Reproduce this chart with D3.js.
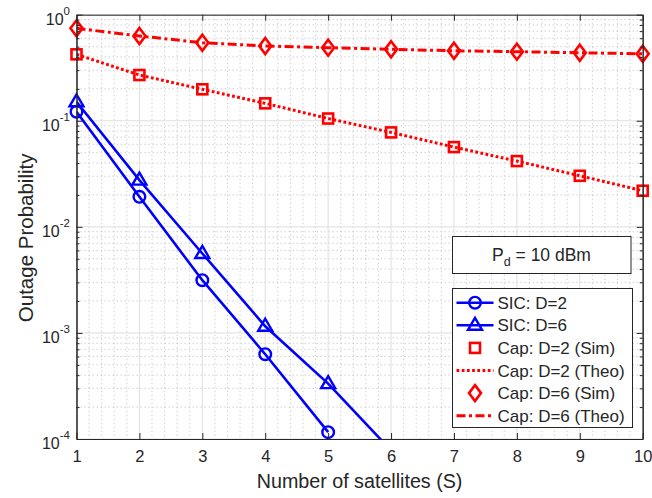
<!DOCTYPE html>
<html>
<head>
<meta charset="utf-8">
<script src="https://cdn.jsdelivr.net/npm/d3@7"></script>
<style>
  body { margin: 0; background: #fff; }
  text { font-family: "Liberation Sans", Arial, sans-serif; fill: #262626; }
</style>
</head>
<body>
<div id="chart"></div>
<script>
// number of satellites
const satellites = [1, 2, 3, 4, 5, 6, 7, 8, 9, 10];

// outage probability
const sicD2 = [0.1216, 0.0192, 0.00314, 0.00063, 0.000116];
const sicD6 = [0.151, 0.0276, 0.00561, 0.001156, 0.000333, 0.000078];
const capD2Sim = [0.423, 0.27, 0.198, 0.146, 0.105, 0.0777, 0.0565, 0.0417, 0.0303, 0.0219];
const capD2Theo = [0.423, 0.27, 0.198, 0.146, 0.105, 0.0777, 0.0565, 0.0417, 0.0303, 0.0219];
const capD6Sim = [0.744, 0.63, 0.544, 0.507, 0.489, 0.472, 0.457, 0.448, 0.438, 0.428];
const capD6Theo = [0.744, 0.63, 0.544, 0.507, 0.489, 0.472, 0.457, 0.448, 0.438, 0.428];

const xTicks = [1, 2, 3, 4, 5, 6, 7, 8, 9, 10];
const yExponents = [0, -1, -2, -3, -4];

const legendLabels = ["SIC: D=2", "SIC: D=6", "Cap: D=2 (Sim)", "Cap: D=2 (Theo)", "Cap: D=6 (Sim)", "Cap: D=6 (Theo)"];

class OutagePlot {
  constructor(config) {
    this.config = config;
    this.svg = null;
    this.margins = null;
    this.xScale = null;
    this.yScale = null;

    this.createSvg();
    this.createMargins();
    this.createScales();
  }

  createSvg() {
    this.svg = d3.select(this.config.div)
      .append("svg")
      .attr("width", this.config.width + this.config.left + this.config.right)
      .attr("height", this.config.height + this.config.top + this.config.bottom);
  }

  createMargins() {
    this.margins = this.svg.append("g")
      .attr("transform", `translate(${this.config.left},${this.config.top})`);

    this.margins.append("clipPath")
      .attr("id", "plotclip")
      .append("rect")
      .attr("width", this.config.width)
      .attr("height", this.config.height);
  }

  createScales() {
    this.xScale = d3.scaleLinear().domain([1, 10]).range([0, this.config.width]);
    this.yScale = d3.scaleLog().domain([1e-4, 1]).range([this.config.height, 0]);
  }

  minorYValues() {
    const out = [];
    for (let k = -4; k < 0; k++) for (let m = 2; m <= 9; m++) out.push(m * Math.pow(10, k));
    return out;
  }

  createGrid() {
    const w = this.config.width, h = this.config.height;
    const g = this.margins.append("g");

    // minor x grid every 0.2
    const minorX = d3.range(1, 10.001, 0.2).filter(v => Math.abs(v - Math.round(v)) > 0.01);
    g.selectAll(".mx").data(minorX).join("line")
      .attr("x1", d => this.xScale(d)).attr("x2", d => this.xScale(d))
      .attr("y1", 0).attr("y2", h)
      .attr("stroke", "#c4c4c4").attr("stroke-width", 0.8).attr("stroke-dasharray", "1.5,2.5");

    g.selectAll(".my").data(this.minorYValues()).join("line")
      .attr("x1", 0).attr("x2", w)
      .attr("y1", d => this.yScale(d)).attr("y2", d => this.yScale(d))
      .attr("stroke", "#c4c4c4").attr("stroke-width", 0.8).attr("stroke-dasharray", "1.5,2.5");

    g.selectAll(".gx").data(xTicks).join("line")
      .attr("x1", d => this.xScale(d)).attr("x2", d => this.xScale(d))
      .attr("y1", 0).attr("y2", h)
      .attr("stroke", "#dedede").attr("stroke-width", 1);

    g.selectAll(".gy").data(yExponents).join("line")
      .attr("x1", 0).attr("x2", w)
      .attr("y1", d => this.yScale(Math.pow(10, d))).attr("y2", d => this.yScale(Math.pow(10, d)))
      .attr("stroke", "#dedede").attr("stroke-width", 1);
  }

  createAxis() {
    const w = this.config.width, h = this.config.height;
    const minorY = this.minorYValues();
    const majorY = yExponents.map(e => Math.pow(10, e));

    const bottom = d3.axisBottom(this.xScale).tickValues(xTicks).tickSizeInner(-6).tickSizeOuter(0).tickPadding(11);
    const top = d3.axisTop(this.xScale).tickValues(xTicks).tickSizeInner(-6).tickSizeOuter(0).tickFormat("");
    const left = d3.axisLeft(this.yScale).tickValues(majorY).tickSizeInner(-6).tickSizeOuter(0).tickFormat("");
    const right = d3.axisRight(this.yScale).tickValues(majorY).tickSizeInner(-6).tickSizeOuter(0).tickFormat("");
    const leftMinor = d3.axisLeft(this.yScale).tickValues(minorY).tickSizeInner(-3).tickSizeOuter(0).tickFormat("");
    const rightMinor = d3.axisRight(this.yScale).tickValues(minorY).tickSizeInner(-3).tickSizeOuter(0).tickFormat("");

    const style = sel => {
      sel.selectAll("path").attr("stroke", "#262626").attr("stroke-width", 1);
      sel.selectAll("line").attr("stroke", "#262626").attr("stroke-width", 1);
    };

    const gb = this.margins.append("g").attr("transform", `translate(0,${h})`).call(bottom).call(style);
    gb.selectAll("text")
      .style("font-family", "Liberation Sans, Arial, sans-serif")
      .style("font-size", "16.5px").attr("fill", "#262626");
    this.margins.append("g").call(top).call(style);
    this.margins.append("g").call(left).call(style);
    this.margins.append("g").attr("transform", `translate(${w},0)`).call(right).call(style);
    this.margins.append("g").call(leftMinor).call(style);
    this.margins.append("g").attr("transform", `translate(${w},0)`).call(rightMinor).call(style);

    // y tick labels as 10^k
    const yl = this.margins.append("g");
    yExponents.forEach(e => {
      const t = yl.append("text")
        .attr("x", -6.5)
        .attr("y", this.yScale(Math.pow(10, e)) + 10)
        .attr("text-anchor", "end")
        .style("font-size", "16px");
      t.append("tspan").text("10");
      t.append("tspan").attr("dy", -10).style("font-size", "11.5px").text(e);
    });

    // axis titles
    this.svg.append("text")
      .attr("x", this.config.left + w / 2)
      .attr("y", this.config.top + h + 49)
      .attr("text-anchor", "middle")
      .style("font-size", "19.7px")
      .text("Number of satellites (S)");

    this.svg.append("text")
      .attr("transform", `translate(33,${this.config.top + h / 2 + 11}) rotate(-90)`)
      .attr("text-anchor", "middle")
      .style("font-size", "20.5px")
      .text("Outage Probability");
  }

  series(values) {
    return values.map((v, i) => ({ s: satellites[i], p: v }));
  }

  renderLines() {
    const line = d3.line()
      .x(d => this.xScale(d.s))
      .y(d => this.yScale(d.p));

    const lines = this.margins.append("g").attr("clip-path", "url(#plotclip)");

    lines.append("path").datum(this.series(capD6Theo))
      .attr("fill", "none").attr("stroke", "#ff0000").attr("stroke-width", 3)
      .attr("stroke-dasharray", "9,3.5,3,3.5").attr("d", line);
    lines.append("path").datum(this.series(capD2Theo))
      .attr("fill", "none").attr("stroke", "#ff0000").attr("stroke-width", 3)
      .attr("stroke-dasharray", "2.8,2.4").attr("d", line);
    lines.append("path").datum(this.series(sicD2))
      .attr("fill", "none").attr("stroke", "#0000ff").attr("stroke-width", 2.6).attr("d", line);
    lines.append("path").datum(this.series(sicD6))
      .attr("fill", "none").attr("stroke", "#0000ff").attr("stroke-width", 2.6).attr("d", line);
  }

  marker(g, type, x, y, color) {
    if (type === "circle") {
      g.append("circle").attr("cx", x).attr("cy", y).attr("r", 5.8)
        .attr("fill", "none").attr("stroke", color).attr("stroke-width", 2.4);
    } else if (type === "triangle") {
      g.append("path").attr("d", `M${x},${y - 7.5}L${x + 7},${y + 4.5}L${x - 7},${y + 4.5}Z`)
        .attr("fill", "none").attr("stroke", color).attr("stroke-width", 2.4);
    } else if (type === "square") {
      g.append("rect").attr("x", x - 5).attr("y", y - 5).attr("width", 10).attr("height", 10)
        .attr("fill", "none").attr("stroke", color).attr("stroke-width", 2.6);
    } else if (type === "diamond") {
      g.append("path").attr("d", `M${x},${y - 8}L${x + 6},${y}L${x},${y + 8}L${x - 6},${y}Z`)
        .attr("fill", "none").attr("stroke", color).attr("stroke-width", 2.6);
    }
  }

  renderMarkers() {
    const g = this.margins.append("g");
    const put = (values, type, color) => {
      this.series(values).filter(d => d.p >= 1e-4).forEach(d => {
        this.marker(g, type, this.xScale(d.s), this.yScale(d.p), color);
      });
    };
    put(capD6Sim, "diamond", "#ff0000");
    put(capD2Sim, "square", "#ff0000");
    put(sicD2, "circle", "#0000ff");
    put(sicD6, "triangle", "#0000ff");
  }

  renderAnnotation() {
    const g = this.svg.append("g");
    g.append("rect")
      .attr("x", 452.5).attr("y", 236.5).attr("width", 178.5).attr("height", 37)
      .attr("fill", "#fff").attr("stroke", "#262626").attr("stroke-width", 1);
    const t = g.append("text")
      .attr("x", 541.5).attr("y", 261)
      .attr("text-anchor", "middle")
      .style("font-size", "17.5px");
    t.append("tspan").text("P");
    t.append("tspan").attr("dy", 5).style("font-size", "12.5px").text("d");
    t.append("tspan").attr("dy", -5).text(" = 10 dBm");
  }

  renderLegend() {
    const g = this.svg.append("g");
    g.append("rect")
      .attr("x", 452.5).attr("y", 288.5).attr("width", 180).attr("height", 139)
      .attr("fill", "#fff").attr("stroke", "#262626").attr("stroke-width", 1);

    const entries = [
      { line: "solid", color: "#0000ff", marker: "circle" },
      { line: "solid", color: "#0000ff", marker: "triangle" },
      { line: null, color: "#ff0000", marker: "square" },
      { line: "2.8,2.4", color: "#ff0000", marker: null },
      { line: null, color: "#ff0000", marker: "diamond" },
      { line: "9,3.5,3,3.5", color: "#ff0000", marker: null }
    ];

    entries.forEach((e, i) => {
      const y = 302.7 + i * 22.6;
      if (e.line) {
        const l = g.append("line")
          .attr("x1", 456.5).attr("x2", 493.5).attr("y1", y).attr("y2", y)
          .attr("stroke", e.color).attr("stroke-width", e.line === "solid" ? 2.6 : 3);
        if (e.line !== "solid") l.attr("stroke-dasharray", e.line);
      }
      if (e.marker) this.marker(g, e.marker, 475, y, e.color);
      g.append("text")
        .attr("x", 497.5).attr("y", y + 6)
        .style("font-size", "17px")
        .text(legendLabels[i]);
    });
  }
}

const plot = new OutagePlot({
  div: "#chart",
  width: 566.2,
  height: 424.3,
  left: 76.5,
  right: 9.3,
  top: 14.7,
  bottom: 59
});
plot.createGrid();
plot.renderLines();
plot.renderMarkers();
plot.createAxis();
plot.renderAnnotation();
plot.renderLegend();
</script>
</body>
</html>
